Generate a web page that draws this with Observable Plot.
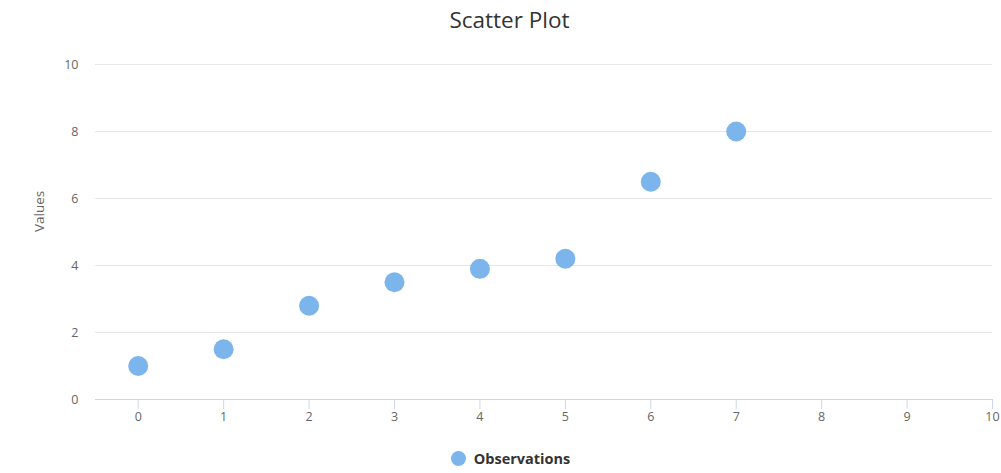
<!DOCTYPE html>
<html>
<head>
<meta charset="utf-8">
<script src="https://cdn.jsdelivr.net/npm/d3@7"></script>
<script src="https://cdn.jsdelivr.net/npm/@observablehq/plot@0.6"></script>
<style>
  html, body { margin: 0; padding: 0; background: #fff; }
  body { width: 1001px; height: 473px; overflow: hidden; font-family: "Open Sans", "DejaVu Sans", sans-serif; }
  #title { height: 40px; line-height: 40px; text-align: center; font-size: 22.5px; color: #333; padding-left: 18px; box-sizing: border-box; }
  #chart svg { display: block; }
  #legend { height: 44px; padding-top: 14px; display: flex; align-items: center; justify-content: center; padding-left: 20px; box-sizing: border-box; }
  #legend .sw { width: 15px; height: 15px; border-radius: 50%; background: #7cb5ec; margin-right: 8px; }
  #legend .lb { font-size: 14.5px; font-weight: bold; color: #333; }
</style>
</head>
<body>
<div id="title">Scatter Plot</div>
<div id="chart"></div>
<div id="legend"><span class="sw"></span><span class="lb">Observations</span></div>
<script>
const xValues = [0, 1, 2, 3, 4, 5, 6, 7];
const yValues = [1, 1.5, 2.8, 3.5, 3.9, 4.2, 6.5, 8];
const xTicks = [0, 1, 2, 3, 4, 5, 6, 7, 8, 9, 10];
const yTicks = [0, 2, 4, 6, 8, 10];
const seriesName = "Observations";
const yLabel = "Values";

const data = xValues.map((x, i) => ({x, y: yValues[i], series: seriesName}));

const chart = Plot.plot({
  width: 1001,
  height: 389,
  marginTop: 24,
  marginBottom: 30,
  marginLeft: 95,
  marginRight: 9,
  style: {fontFamily: "'Open Sans', 'DejaVu Sans', sans-serif", fontSize: "12px", color: "#666"},
  x: {domain: [-0.5, 10]},
  y: {domain: [0, 10]},
  marks: [
    Plot.gridY(yTicks.filter(d => d > 0), {stroke: "#e6e6e6", strokeOpacity: 1}),
    Plot.axisY(yTicks, {tickSize: 0, tickPadding: 17, fill: "#666", fontSize: 12.5, label: null}),
    Plot.text([yLabel], {frameAnchor: "left", dx: -56, rotate: -90, fontSize: 13.5, fill: "#666"}),
    Plot.ruleY([0], {stroke: "#ccd6eb"}),
    Plot.axisX(xTicks, {tickSize: 10, tickPadding: 3, stroke: "#ccd6eb", fill: "#666", fontSize: 12.5, label: null}),
    Plot.dot(data, {x: "x", y: "y", r: 10, fill: "#7cb5ec", stroke: "none"})
  ]
});
document.getElementById("chart").appendChild(chart);
</script>
</body>
</html>
